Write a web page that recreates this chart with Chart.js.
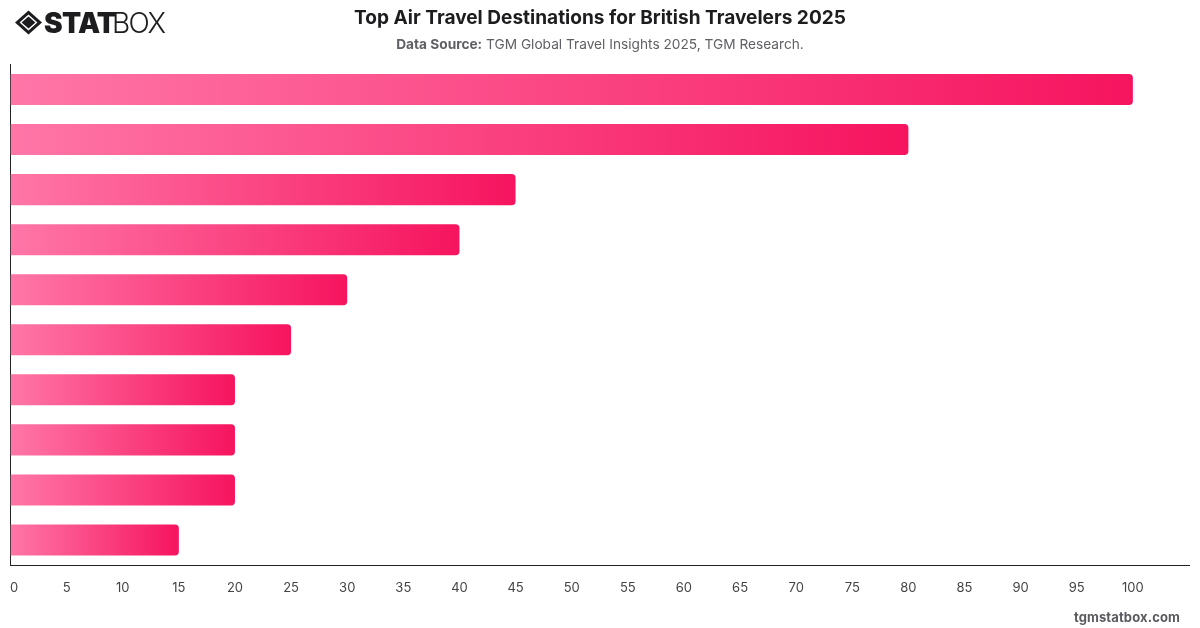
<!DOCTYPE html>
<html>
<head>
<meta charset="utf-8">
<title>Top Air Travel Destinations for British Travelers 2025</title>
<script src="https://cdn.jsdelivr.net/npm/chart.js@4"></script>
<style>
  html, body { margin: 0; padding: 0; background: #fff; }
  body { width: 1200px; height: 628px; position: relative; overflow: hidden; font-family: Inter, sans-serif; }
  #chart { position: absolute; left: 0; top: 0; }
  .title { position: absolute; left: 0; width: 1200px; top: 5px; text-align: center; font-size: 19.07px; line-height: 26px; font-weight: 700; color: #1d1d1f; }
  .source { position: absolute; left: 0; width: 1200px; top: 35px; text-align: center; font-size: 13.7px; line-height: 18px; color: #5f5f64; }
  .source b { font-weight: 700; }
  .site { position: absolute; right: 20px; top: 609px; font-size: 13px; line-height: 16px; font-weight: 700; color: #5a5a5f; letter-spacing: 0.12px; }
  .logo { position: absolute; left: 15px; top: 9px; height: 28px; width: 160px; }
  .logo svg { position: absolute; left: 0; top: 1px; }
  .logo span { position: absolute; top: 0; line-height: 28px; font-size: 28px; color: #1d1d20; }
  .logo .heavy { left: 29px; font-weight: 900; letter-spacing: -0.7px; }
  .logo .light { left: 97px; font-weight: 300; letter-spacing: -1.6px; }
</style>
</head>
<body>
<canvas id="chart" width="1200" height="628"></canvas>
<div class="logo">
  <svg width="28" height="25" viewBox="0 0 28 25">
    <path d="M13.5 0.5 L27 12.5 L13.5 24.5 L0 12.5 Z M13.5 4.6 L4.6 12.5 L13.5 20.4 L22.4 12.5 Z" fill="#1d1d20" fill-rule="evenodd"/>
    <path d="M13.5 6.4 L20.4 12.5 L13.5 18.6 L6.6 12.5 Z" fill="#1d1d20"/>
  </svg>
  <span class="heavy">STAT</span><span class="light">BOX</span>
</div>
<div class="title">Top Air Travel Destinations for British Travelers 2025</div>
<div class="source"><b>Data Source:</b> TGM Global Travel Insights 2025, TGM Research.</div>
<div class="site">tgmstatbox.com</div>
<script>
// Ranked destinations; the axis shows only the bars, so the ranks stay unlabelled.
const ranks = ["1", "2", "3", "4", "5", "6", "7", "8", "9", "10"];
const shares = [100, 80, 45, 40, 30, 25, 20, 20, 20, 15];
const tickStep = 5;
const lastTick = 100;
const axisMax = 105;
const barStart = "#ff76a7";
const barEnd = "#f6145f";

// Each bar gets its own horizontal gradient, running from the axis to its tip.
function barFill(context) {
  const chart = context.chart;
  if (!chart.chartArea || context.dataIndex === undefined) return barEnd;
  const scale = chart.scales.x;
  const gradient = chart.ctx.createLinearGradient(
    scale.getPixelForValue(0), 0,
    scale.getPixelForValue(context.parsed ? context.parsed.x : shares[context.dataIndex]), 0
  );
  gradient.addColorStop(0, barStart);
  gradient.addColorStop(1, barEnd);
  return gradient;
}

new Chart(document.getElementById("chart"), {
  type: "bar",
  data: {
    labels: ranks,
    datasets: [{
      data: shares,
      backgroundColor: barFill,
      hoverBackgroundColor: barFill,
      borderWidth: 0,
      borderRadius: { topLeft: 0, bottomLeft: 0, topRight: 4, bottomRight: 4 },
      borderSkipped: false,
      categoryPercentage: 1,
      barPercentage: 0.62
    }]
  },
  options: {
    indexAxis: "y",
    responsive: false,
    animation: false,
    layout: { padding: { left: 10, right: 11, top: 64.5, bottom: 0 } },
    plugins: { legend: { display: false }, tooltip: { enabled: false } },
    scales: {
      x: {
        min: 0,
        max: axisMax,
        afterBuildTicks(axis) {
          axis.ticks = axis.ticks.filter(t => t.value <= lastTick);
        },
        afterFit(axis) {
          axis.height = 63;
          // The layout padding already leaves room for the outermost labels.
          axis.paddingLeft = 0;
          axis.paddingRight = 0;
        },
        grid: { display: false, drawTicks: false },
        border: { display: true, color: "#222", width: 1 },
        ticks: {
          stepSize: tickStep,
          autoSkip: false,
          maxRotation: 0,
          padding: 15,
          color: "#444",
          font: { family: "Inter", size: 13 },
          // Leading spaces nudge the zero clear of the vertical axis line.
          callback: v => (v === 0 ? "  0" : String(v))
        }
      },
      y: {
        grid: { display: false, drawTicks: false },
        border: { display: true, color: "#222", width: 1 },
        ticks: { display: false },
        afterFit(axis) { axis.width = 0.5; }
      }
    }
  }
});
</script>
</body>
</html>
